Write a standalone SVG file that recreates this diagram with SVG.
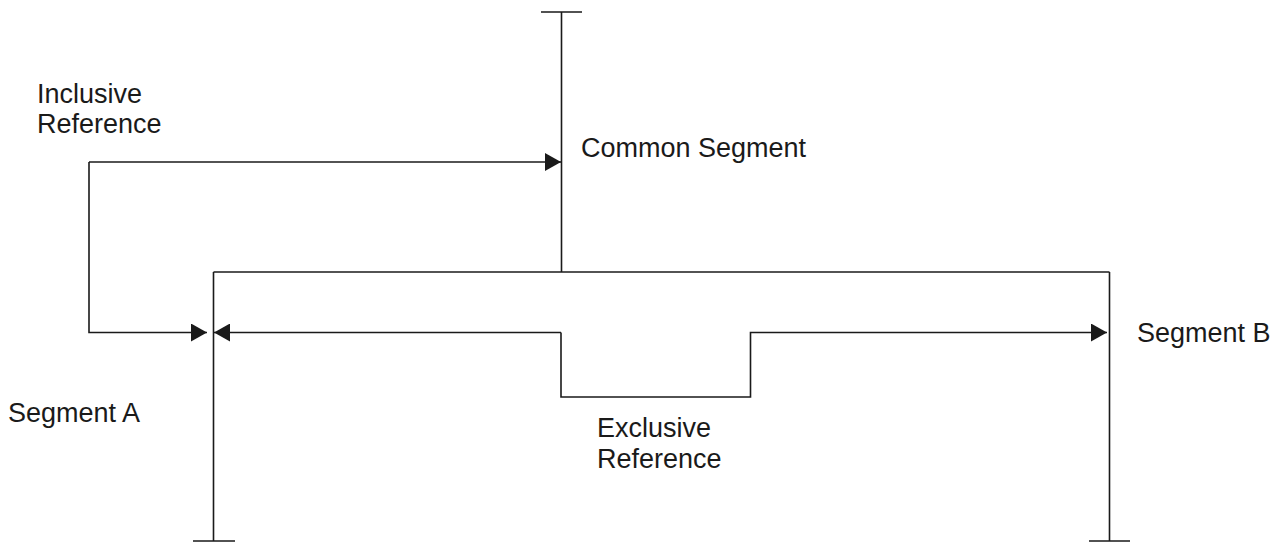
<svg xmlns="http://www.w3.org/2000/svg" width="1286" height="544" viewBox="0 0 1286 544">
<style>
.ln{fill:none;stroke:#1a1a1a;stroke-width:1.6}
.tx{font-family:"Liberation Sans",Arial,sans-serif;font-size:27px;fill:#1a1a1a}
</style>
<defs>
<marker id="ah" markerUnits="userSpaceOnUse" markerWidth="16" markerHeight="18" viewBox="0 0 16 18" refX="16" refY="9" orient="auto">
<path d="M0,0 L16,9 L0,18 Z" fill="#1a1a1a"/>
</marker>
</defs>
<rect width="1286" height="544" fill="#fff"/>
<g id="common-segment">
<path class="ln" d="M541,12 H582 M561.5,12 V272"/>
<text class="tx" x="581" y="157">Common Segment</text>
</g>
<g id="segment-a">
<path class="ln" d="M213.5,272 V541 M193,541 H235"/>
<text class="tx" x="8" y="422">Segment A</text>
</g>
<g id="segment-b">
<path class="ln" d="M1109.5,272 V541 M1089,541 H1130"/>
<text class="tx" x="1137" y="342">Segment B</text>
</g>
<g id="inclusive-reference">
<text class="tx" x="37" y="103">Inclusive</text>
<text class="tx" x="37" y="133">Reference</text>
</g>
<g id="exclusive-reference">
<text class="tx" x="597" y="437">Exclusive</text>
<text class="tx" x="597" y="468">Reference</text>
</g>
<g id="connectors">
<path class="ln" d="M213.5,272 H1109.5"/>
<path class="ln" d="M89,162 H561" marker-end="url(#ah)"/>
<path class="ln" d="M89,162 V332.5 H207" marker-end="url(#ah)"/>
<path class="ln" d="M561,332.5 H214" marker-end="url(#ah)"/>
<path class="ln" d="M561,332.5 V397 H750.5 V332.5 H1107" marker-end="url(#ah)"/>
</g>
</svg>
